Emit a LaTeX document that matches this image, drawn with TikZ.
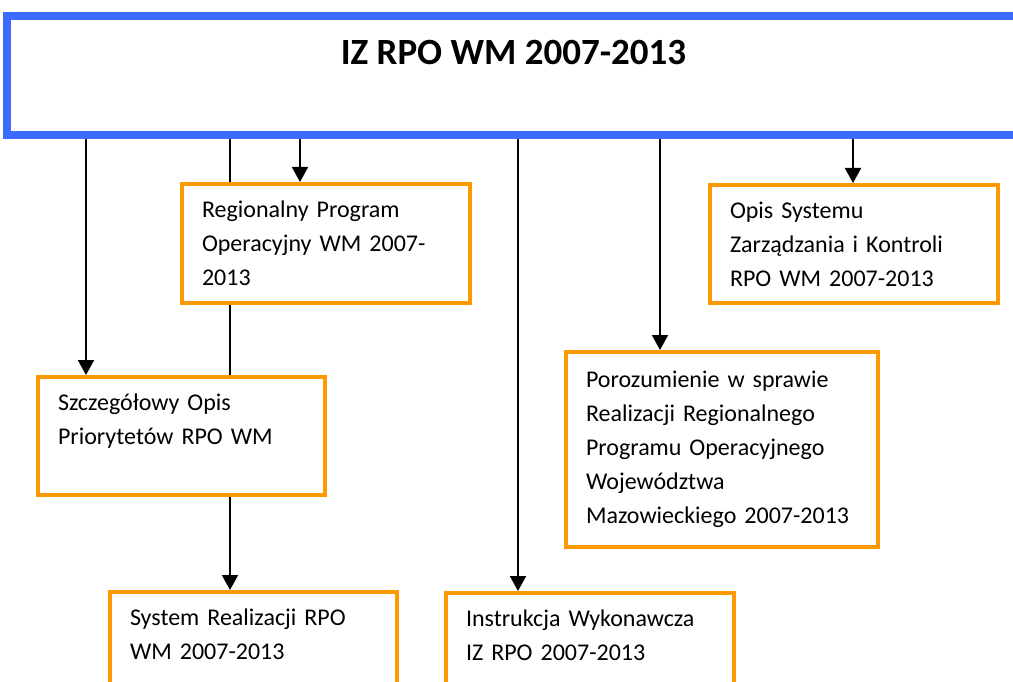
\documentclass[tikz,border=0pt]{standalone}
\usepackage{fontspec}
\setmainfont{Carlito}
\usetikzlibrary{arrows.meta}
\definecolor{izblue}{RGB}{61,107,255}
\definecolor{docorange}{RGB}{255,153,0}

\begin{document}
\begin{tikzpicture}[x=1pt,y=-1pt,
    >={Triangle[width=16pt,length=15pt]},
    doc/.style={draw=docorange,line width=4pt,anchor=north west,align=left,
                inner xsep=20pt,inner ysep=0pt,minimum width=288pt,text width=248pt,
                font=\fontsize{24}{34}\selectfont},
    conn/.style={draw=black,line width=2pt}]
    \useasboundingbox (0,0) rectangle (1013,682);
    \clip (0,0) rectangle (1013,682);

    \node[draw=izblue,line width=8pt,anchor=north west,align=center,
          minimum width=1013pt,minimum height=119pt,
          font=\fontsize{37}{47}\selectfont\bfseries] (iz) at (3,12)
          {IZ RPO WM 2007-2013\\\mbox{}};

    \node[doc,minimum height=119pt] (rpo) at (180,182)
        {Regionalny Program\\Operacyjny WM 2007-\\2013};
    \node[doc,minimum height=118pt] (oszk) at (708,183)
        {Opis Systemu\\Zarządzania i Kontroli\\RPO WM 2007-2013};
    \node[doc,minimum width=312pt,text width=272pt,minimum height=195pt] (poro) at (564,350)
        {Porozumienie w sprawie\\Realizacji Regionalnego\\Programu Operacyjnego\\Województwa\\Mazowieckiego 2007-2013};
    \node[doc,minimum width=287pt,text width=247pt,minimum height=118pt] (szcz) at (36,375)
        {Szczegółowy Opis\\Priorytetów RPO WM\\\mbox{}};
    \node[doc,minimum width=287pt,text width=247pt,minimum height=119pt] (sys) at (108,590)
        {System Realizacji RPO\\WM 2007-2013\\\mbox{}};
    \node[doc,minimum height=119pt] (instr) at (444,591)
        {Instrukcja Wykonawcza\\IZ RPO 2007-2013\\\mbox{}};

    \coordinate (c1) at (86,0);
    \coordinate (c2) at (230,0);
    \coordinate (c3) at (300,0);
    \coordinate (c4) at (518,0);
    \coordinate (c5) at (660,0);
    \coordinate (c6) at (853,0);

    \path[conn] (iz.south -| c2) -- (rpo.north -| c2);
    \path[conn] (rpo.south -| c2) -- (szcz.north -| c2);
    \path[conn,->] (iz.south -| c1) -- (szcz.north -| c1);
    \path[conn,->] (iz.south -| c3) -- (rpo.north -| c3);
    \path[conn,->] (szcz.south -| c2) -- (sys.north -| c2);
    \path[conn,->] (iz.south -| c4) -- (instr.north -| c4);
    \path[conn,->] (iz.south -| c5) -- (poro.north -| c5);
    \path[conn,->] (iz.south -| c6) -- (oszk.north -| c6);
\end{tikzpicture}
\end{document}
